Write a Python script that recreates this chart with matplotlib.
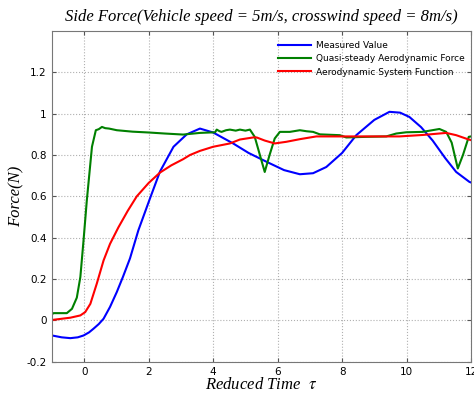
import matplotlib
matplotlib.use('Agg')
import matplotlib.pyplot as plt

plt.rcParams['mathtext.fontset'] = 'stix'

# Measured value (blue)
measured_t = [-1.0, -0.7, -0.43, -0.2, -0.02, 0.15, 0.29, 0.45, 0.6, 0.8, 1.01, 1.2, 1.42, 1.68, 2.04, 2.35,
              2.77, 3.18, 3.59, 4.0, 4.62, 5.1, 5.66, 6.2, 6.69, 7.1, 7.51, 8.0, 8.44, 9.0, 9.47, 9.8,
              10.09, 10.45, 10.81, 11.2, 11.54, 11.95, 12.0]
measured_f = [-0.073, -0.082, -0.086, -0.082, -0.073, -0.058, -0.04, -0.018, 0.008, 0.065, 0.137, 0.21, 0.30,
              0.436, 0.59, 0.72, 0.84, 0.90, 0.928, 0.909, 0.856, 0.81, 0.767, 0.727, 0.707, 0.712, 0.742,
              0.81, 0.896, 0.97, 1.009, 1.005, 0.984, 0.935, 0.87, 0.785, 0.718, 0.67, 0.667]

# Quasi-steady aerodynamic force (green)
quasi_t = [-1.0, -0.95, -0.54, -0.38, -0.23, -0.12, -0.02, 0.08, 0.24, 0.36, 0.45, 0.55, 0.65, 0.77, 1.01, 1.5,
           2.0, 2.5, 3.07, 3.59, 4.06, 4.11, 4.2, 4.26, 4.4, 4.52, 4.7, 4.83, 5.0, 5.14, 5.29, 5.45,
           5.6, 5.75, 5.91, 6.07, 6.38, 6.69, 6.9, 7.1, 7.31, 7.93, 8.13, 8.75, 9.37, 9.68, 9.99,
           10.5, 11.02, 11.23, 11.4, 11.59, 11.75, 11.93, 12.0]
quasi_f = [0.03, 0.035, 0.035, 0.056, 0.11, 0.21, 0.39, 0.58, 0.84, 0.92, 0.925, 0.936, 0.93, 0.928, 0.92, 0.913,
           0.909, 0.904, 0.899, 0.907, 0.91, 0.923, 0.915, 0.912, 0.92, 0.923, 0.918, 0.923, 0.918, 0.923,
           0.888, 0.80, 0.718, 0.80, 0.88, 0.912, 0.912, 0.92, 0.915, 0.912, 0.90, 0.896, 0.885, 0.888,
           0.89, 0.904, 0.91, 0.912, 0.926, 0.912, 0.86, 0.735, 0.80, 0.888, 0.89]

# Aerodynamic system function (red)
system_t = [-1.0, -0.95, -0.43, -0.12, 0.03, 0.19, 0.39, 0.6, 0.8, 1.06, 1.35, 1.63, 2.0, 2.35, 2.7, 3.07,
            3.28, 3.59, 4.0, 4.52, 4.83, 5.24, 5.35, 5.6, 5.91, 6.27, 6.7, 7.2, 7.93, 8.8, 9.78, 10.5,
            11.23, 11.54, 11.93, 12.0]
system_f = [0.0, 0.003, 0.013, 0.024, 0.04, 0.08, 0.178, 0.29, 0.37, 0.45, 0.53, 0.60, 0.665, 0.715, 0.75,
            0.78, 0.80, 0.82, 0.84, 0.856, 0.875, 0.885, 0.885, 0.87, 0.856, 0.864, 0.877, 0.89, 0.89,
            0.89, 0.89, 0.897, 0.907, 0.896, 0.875, 0.872]

xticks = [0, 2, 4, 6, 8, 10, 12]
yticks = [-0.2, 0, 0.2, 0.4, 0.6, 0.8, 1.0, 1.2]
ytick_labels = ['-0.2', '0', '0.2', '0.4', '0.6', '0.8', '1', '1.2']

fig = plt.figure(figsize=(4.74, 3.93), dpi=100)
ax = fig.add_axes([0.1097, 0.0796, 0.884, 0.8415])

ax.plot(measured_t, measured_f, color='#0000ff', linewidth=1.5, label='Measured Value')
ax.plot(quasi_t, quasi_f, color='#008000', linewidth=1.5, label='Quasi-steady Aerodynamic Force')
ax.plot(system_t, system_f, color='#ff0000', linewidth=1.5, label='Aerodynamic System Function')

ax.set_xlim(-1, 12)
ax.set_ylim(-0.2, 1.4)
ax.set_xticks(xticks)
ax.set_yticks(yticks)
ax.set_yticklabels(ytick_labels)
ax.tick_params(direction='in', top=True, right=True, labelsize=7.5, length=3, color='#555555', pad=4)
ax.grid(True, linestyle=':', color='#b0b0b0', linewidth=0.8)
for s in ax.spines.values():
    s.set_color('#777777')

serif = {'family': 'Liberation Serif', 'style': 'italic'}
ax.set_title('Side Force(Vehicle speed = 5m/s, crosswind speed = 8m/s)', fontdict=serif, fontsize=12, pad=7)
ax.set_xlabel(r'Reduced Time  $\tau$', fontdict=serif, fontsize=12, labelpad=0)
ax.set_ylabel('Force(N)', fontdict=serif, fontsize=12, labelpad=1)

ax.legend(loc='upper right', bbox_to_anchor=(0.998, 0.985), frameon=False, fontsize=6.5, handlelength=3.6,
          labelspacing=0.45, borderaxespad=0.2, handletextpad=0.6)

plt.savefig('out.png', dpi=100, facecolor='white')
plt.close()
